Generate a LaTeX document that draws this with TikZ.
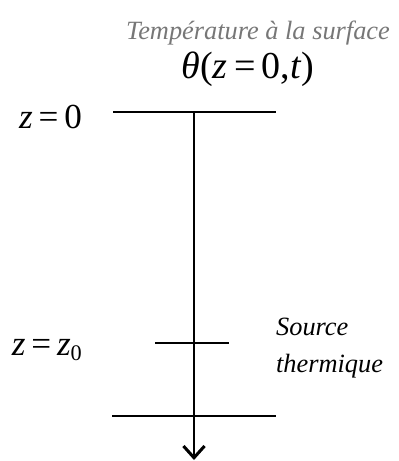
\documentclass[tikz,border=0pt]{standalone}
\usepackage{fontspec}
\setmainfont{Liberation Serif}
\newfontfamily\termsfont{Liberation Serif}
\usepackage{tikz}
\usetikzlibrary{arrows.meta, positioning}
\definecolor{LabelGray}{HTML}{777777}

\begin{document}
\begin{tikzpicture}[x=0.03cm, y=-0.03cm,
        level/.style={line width=2.4pt},
        axis/.style={line width=2.4pt, -{Straight Barb[length=10pt, width=18pt, line width=2.6pt]}},
        depth/.style={anchor=east, font=\termsfont\fontsize{30}{32}\selectfont},
        note/.style={font=\termsfont\fontsize{22.5}{32}\selectfont\itshape, align=left}]

        \useasboundingbox (0,0) rectangle (398,461);

        % Surface and depth levels
        \coordinate (s0l) at (113,112);
        \coordinate (s0r) at (276,112);
        \coordinate (srcl) at (155,343);
        \coordinate (srcr) at (229,343);
        \coordinate (botl) at (112,416);
        \coordinate (botr) at (276,416);
        \coordinate (top) at (194,112);
        \coordinate (tip) at (194,460);

        \draw[level] (s0l) -- (s0r);
        \draw[level] (srcl) -- (srcr);
        \draw[level] (botl) -- (botr);
        \draw[axis] (top) -- (tip);

        % Labels
        \node[depth] (zzero) at (86,117) {\textit{z}\,=\,0};
        \node[depth] (zsrc) at (86,350) {\textit{z}\,=\,\textit{z}\raisebox{-0.35ex}{\fontsize{19}{21}\selectfont 0}};
        \node[font=\termsfont\fontsize{32.5}{34}\selectfont] (theta) at (248,69) {\textit{θ}(\textit{z}\,=\,0,\textit{t})};
        \node[note, text=LabelGray, anchor=east] (temp) at (394,33) {Température à la surface};
        \node[note, anchor=west] (src) at (272,348) {Source\\thermique};
      \end{tikzpicture}
\end{document}
